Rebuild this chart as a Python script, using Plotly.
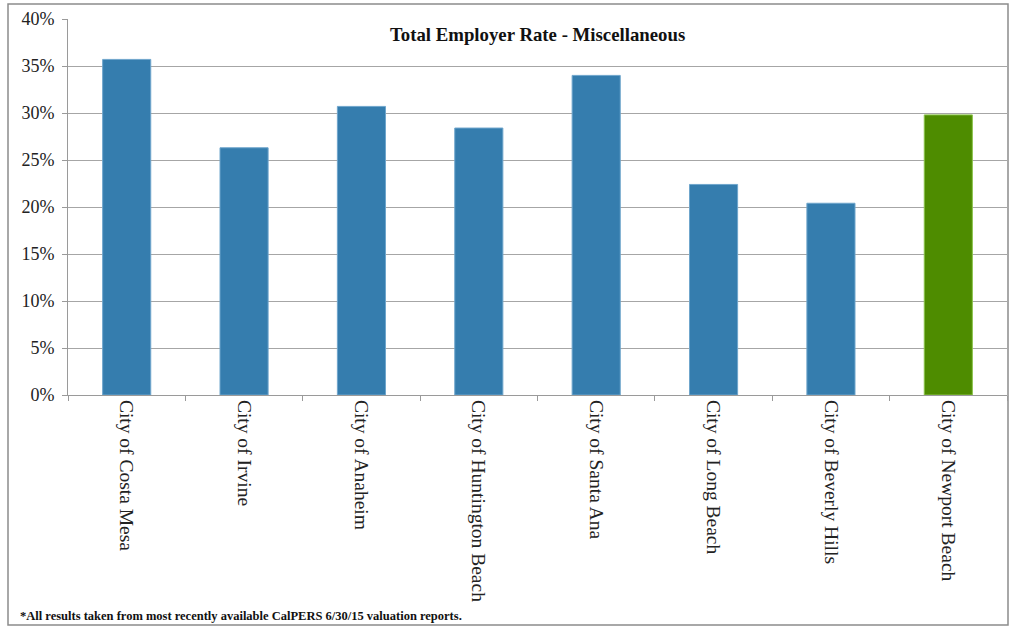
import plotly.graph_objects as go

cities = [
    "City of Costa Mesa",
    "City of Irvine",
    "City of Anaheim",
    "City of Huntington Beach",
    "City of Santa Ana",
    "City of Long Beach",
    "City of Beverly Hills",
    "City of Newport Beach",
]
employer_rate = [35.7, 26.3, 30.7, 28.4, 34.0, 22.4, 20.4, 29.8]
highlight_city = "City of Newport Beach"
y_ticks = [0, 5, 10, 15, 20, 25, 30, 35, 40]
y_tick_labels = [f"{v}%" for v in y_ticks]

BLUE = "#357DAE"
GREEN = "#4E8C00"
colors = [GREEN if c == highlight_city else BLUE for c in cities]
edges = ["#8BC34A" if c == highlight_city else "#6FA6CC" for c in cities]

SERIF = "Liberation Serif"

fig = go.Figure(
    go.Bar(
        x=cities,
        y=employer_rate,
        marker=dict(color=colors, line=dict(color=edges, width=1)),
        hoverinfo="x+y",
    )
)

W, H = 1010, 626
L, R, T, B = 68, 3, 19, 231
pw, ph = W - L - R, H - T - B


def px_x(x):
    return (x - L) / pw


def px_y(y):
    return (H - B - y) / ph


fig.update_layout(
    width=W,
    height=H,
    margin=dict(l=L, r=R, t=T, b=B, pad=0),
    paper_bgcolor="white",
    plot_bgcolor="white",
    bargap=0.59,
    showlegend=False,
    font=dict(family=SERIF, color="#222222"),
    xaxis=dict(
        type="category",
        tickangle=90,
        tickfont=dict(size=19.5, family=SERIF, color="#222222"),
        ticks="outside",
        tickson="boundaries",
        ticklen=5,
        tickcolor="#9a9a9a",
        showline=True,
        linecolor="#9a9a9a",
        linewidth=1,
        showgrid=False,
        fixedrange=True,
    ),
    yaxis=dict(
        range=[0, 40],
        tickvals=y_ticks,
        ticktext=y_tick_labels,
        tickfont=dict(size=18, family=SERIF, color="#222222"),
        ticks="outside",
        ticklen=5,
        tickcolor="#9a9a9a",
        showline=True,
        linecolor="#9a9a9a",
        linewidth=1,
        showgrid=True,
        gridcolor="#a6a6a6",
        gridwidth=1,
        zeroline=False,
        ticklabelstandoff=4,
        fixedrange=True,
    ),
    shapes=[
        dict(
            type="rect",
            xref="paper",
            yref="paper",
            x0=px_x(8),
            x1=px_x(1008),
            y0=px_y(625),
            y1=px_y(4),
            line=dict(color="#8c8c8c", width=1.5),
            fillcolor="rgba(0,0,0,0)",
            layer="below",
        )
    ],
    annotations=[
        dict(
            text="<b>Total Employer Rate - Miscellaneous</b>",
            xref="paper",
            yref="paper",
            x=px_x(537),
            y=px_y(34),
            xanchor="center",
            yanchor="middle",
            showarrow=False,
            font=dict(size=18.8, family=SERIF, color="#111111"),
        ),
        dict(
            text="<b>*All results taken from most recently available CalPERS 6/30/15 valuation reports.</b>",
            xref="paper",
            yref="paper",
            x=px_x(18),
            y=px_y(616),
            xanchor="left",
            yanchor="middle",
            showarrow=False,
            font=dict(size=12.5, family=SERIF, color="#111111"),
        ),
    ],
)

fig.write_html("out.html")
